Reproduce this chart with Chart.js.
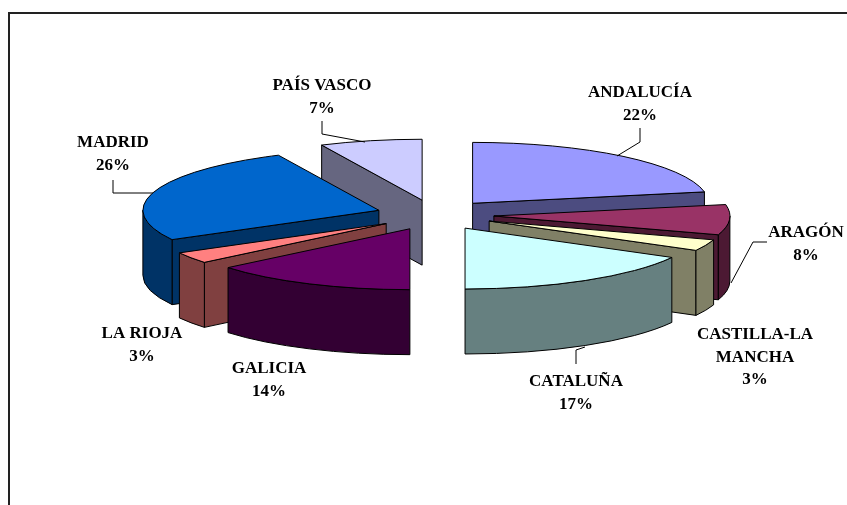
<!DOCTYPE html>
<html>
<head>
<meta charset="utf-8">
<title>Reparto por comunidades</title>
<script src="https://cdn.jsdelivr.net/npm/chart.js@4"></script>
<style>
    html, body { margin: 0; padding: 0; background: #fff; overflow: hidden; }
    canvas { display: block; }
</style>
</head>
<body>
<canvas id="pieChart" width="847" height="505"></canvas>
<script>
// Data
var categories = ['ANDALUCÍA', 'ARAGÓN', ['CASTILLA-LA', 'MANCHA'], 'CATALUÑA', 'GALICIA', 'LA RIOJA', 'MADRID', 'PAÍS VASCO'];
var shares = [22, 8, 3, 17, 14, 3, 26, 7];

// Colours of the top faces and of the side walls
var topColors = ['#9999FF', '#993366', '#FFFFCC', '#CCFFFF', '#660066', '#FF8080', '#0066CC', '#CCCCFF'];
var wallColors = ['#4C4C80', '#4C1933', '#808066', '#668080', '#330033', '#804040', '#003366', '#666680'];

// Where the labels sit (centre of the first line) and their leader lines
var labelSpots = [[640, 93], [806, 233], [755, 335], [576, 382], [269, 369], [142, 334], [113, 143], [322, 86]];
var leaders = [
    [[640, 128], [640, 142], [617, 156]],
    [[767, 242], [753, 242], [731, 283]],
    null,
    [[576, 364], [576, 350], [585, 347]],
    null,
    null,
    [[113, 180], [113, 193], [153, 193]],
    [[322, 121], [322, 134], [365, 142]]
];

var squash = 0.258;
var depth = 65;
var explode = 59;

function sliceShape(arc) {
    var p = arc.getProps(['x', 'y', 'startAngle', 'endAngle', 'outerRadius'], true);
    var mid = (p.startAngle + p.endAngle) / 2;
    return {
        x: p.x + Math.cos(mid) * explode,
        y: p.y + Math.sin(mid) * explode * squash,
        r: p.outerRadius,
        a0: p.startAngle,
        a1: p.endAngle,
        mid: mid
    };
}

function paintFace(ctx, pts, color) {
    ctx.beginPath();
    pts.forEach(function (q, i) {
        if (i === 0) ctx.moveTo(q[0], q[1]);
        else ctx.lineTo(q[0], q[1]);
    });
    ctx.closePath();
    ctx.fillStyle = color;
    ctx.fill();
    ctx.stroke();
}

function paintWalls(ctx, s, color) {
    var rx = s.r, ry = s.r * squash;
    ctx.strokeStyle = '#000';
    ctx.lineWidth = 1;
    ctx.lineJoin = 'round';

    // the two cut faces, only when they look towards us
    [[s.a0, -Math.cos(s.a0)], [s.a1, Math.cos(s.a1)]].forEach(function (f) {
        if (f[1] <= 0.001) return;
        var ex = s.x + Math.cos(f[0]) * rx, ey = s.y + Math.sin(f[0]) * ry;
        paintFace(ctx, [[s.x, s.y], [ex, ey], [ex, ey + depth], [s.x, s.y + depth]], color);
    });

    // the round outside, front half only
    var turn = Math.PI * 2;
    for (var k = -1; k <= 1; k++) {
        var lo = Math.max(s.a0, k * turn), hi = Math.min(s.a1, k * turn + Math.PI);
        if (hi <= lo) continue;
        ctx.beginPath();
        ctx.ellipse(s.x, s.y, rx, ry, 0, lo, hi);
        ctx.ellipse(s.x, s.y + depth, rx, ry, 0, hi, lo, true);
        ctx.closePath();
        ctx.fillStyle = color;
        ctx.fill();
        ctx.stroke();
    }
}

var pie3d = {
    id: 'pie3d',
    beforeDraw: function (chart) {
        var ctx = chart.ctx;
        ctx.save();
        ctx.strokeStyle = '#222';
        ctx.lineWidth = 2;
        ctx.beginPath();
        ctx.moveTo(9, 505);
        ctx.lineTo(9, 13);
        ctx.lineTo(847, 13);
        ctx.stroke();
        ctx.restore();
    },
    beforeDatasetsDraw: function (chart) {
        var ctx = chart.ctx;
        var arcs = chart.getDatasetMeta(0).data;
        var order = arcs.map(function (arc, i) { return i; });
        // back to front
        order.sort(function (a, b) {
            return Math.sin(sliceShape(arcs[a]).mid) - Math.sin(sliceShape(arcs[b]).mid);
        });
        order.forEach(function (i) {
            var arc = arcs[i];
            var s = sliceShape(arc);
            ctx.save();
            paintWalls(ctx, s, wallColors[i]);
            ctx.restore();

            // top face: the library's own arc, moved out and laid on its side
            ctx.save();
            ctx.translate(0, arc.y);
            ctx.scale(1, squash);
            ctx.translate(0, -arc.y);
            ctx.translate(Math.cos(s.mid) * explode, Math.sin(s.mid) * explode);
            arc.draw(ctx);
            ctx.restore();

            // outline of the top face, in screen pixels
            ctx.save();
            ctx.beginPath();
            ctx.moveTo(s.x, s.y);
            ctx.ellipse(s.x, s.y, s.r, s.r * squash, 0, s.a0, s.a1);
            ctx.closePath();
            ctx.strokeStyle = '#000';
            ctx.lineWidth = 1;
            ctx.lineJoin = 'round';
            ctx.stroke();
            ctx.restore();
        });
        return false;
    },
    afterDraw: function (chart) {
        var ctx = chart.ctx;
        ctx.save();
        ctx.strokeStyle = '#000';
        ctx.lineWidth = 1;
        leaders.forEach(function (line) {
            if (!line) return;
            ctx.beginPath();
            line.forEach(function (q, i) {
                if (i === 0) ctx.moveTo(q[0], q[1]);
                else ctx.lineTo(q[0], q[1]);
            });
            ctx.stroke();
        });
        ctx.fillStyle = '#000';
        ctx.font = 'bold 17px "Liberation Serif"';
        ctx.textAlign = 'center';
        ctx.textBaseline = 'middle';
        categories.forEach(function (name, i) {
            var lines = [].concat(name, shares[i] + '%');
            lines.forEach(function (text, n) {
                ctx.fillText(text, labelSpots[i][0], labelSpots[i][1] + n * 22.5);
            });
        });
        ctx.restore();
    }
};

var ctx = document.getElementById('pieChart').getContext('2d');
var pieChart = new Chart(ctx, {
    type: 'pie',
    data: {
        labels: categories,
        datasets: [{
            data: shares,
            backgroundColor: topColors,
            borderWidth: 0
        }]
    },
    options: {
        responsive: false,
        animation: false,
        events: [],
        radius: 236,
        layout: { padding: { left: 23, bottom: 75 } },
        plugins: {
            legend: { display: false },
            tooltip: { enabled: false }
        }
    },
    plugins: [pie3d]
});
</script>
</body>
</html>
